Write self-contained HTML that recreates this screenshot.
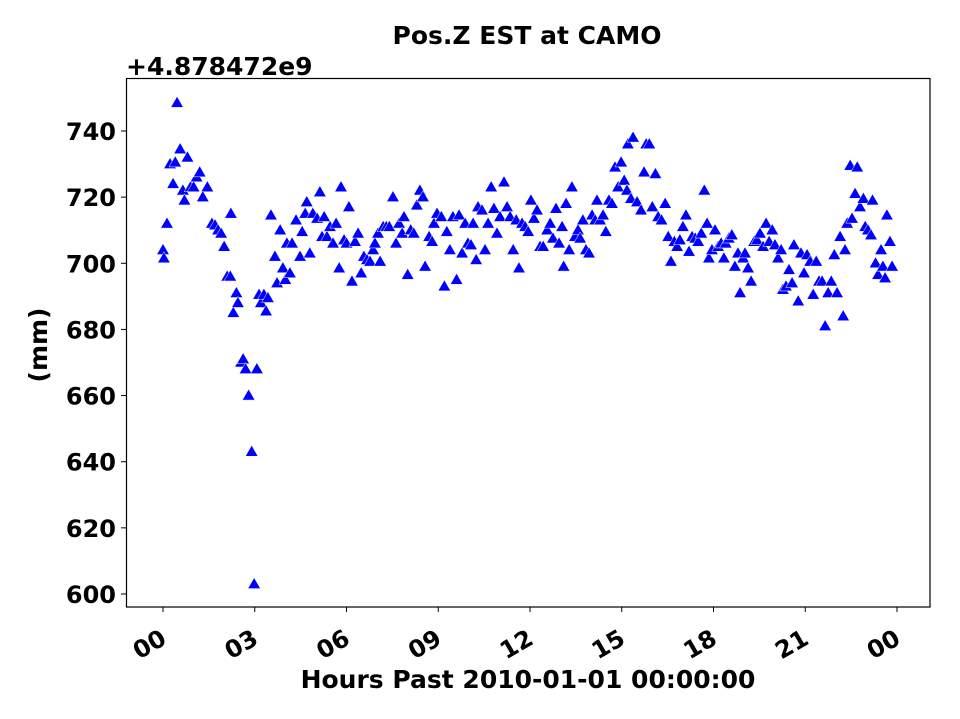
<!DOCTYPE html>
<html><head><meta charset="utf-8"><style>
html,body{margin:0;padding:0;background:#fff;width:960px;height:719px;overflow:hidden}
svg{display:block;font-family:"DejaVu Sans","Liberation Sans",sans-serif;font-weight:bold}
</style></head><body>
<svg id="chart" width="960" height="719" viewBox="0 0 960 719" xmlns="http://www.w3.org/2000/svg">
<rect width="960" height="719" fill="#fff"/>
<text x="527" y="44" text-anchor="middle" font-size="25">Pos.Z EST at CAMO</text>
<text x="126" y="75" font-size="25">+4.878472e9</text>
<text transform="translate(47,345) rotate(-90)" text-anchor="middle" font-size="25">(mm)</text>
<text x="528" y="688" text-anchor="middle" font-size="25">Hours Past 2010-01-01 00:00:00</text>
<g id="marks"></g>
<g id="axes"></g>
<rect x="126.5" y="78.5" width="803.5" height="528.5" fill="none" stroke="#000" stroke-width="1.2"/>
</svg>
<script>
const hours=[0.0,0.03,0.13,0.23,0.33,0.4,0.46,0.56,0.65,0.7,0.8,0.9,1.0,1.1,1.2,1.3,1.45,1.6,1.7,1.8,1.9,2.0,2.1,2.2,2.22,2.3,2.4,2.45,2.55,2.62,2.7,2.8,2.9,2.98,3.07,3.14,3.2,3.3,3.37,3.43,3.53,3.66,3.73,3.83,3.92,4.0,4.05,4.15,4.22,4.35,4.48,4.55,4.65,4.7,4.8,4.9,5.04,5.13,5.2,5.27,5.36,5.46,5.56,5.66,5.76,5.82,5.92,6.0,6.08,6.18,6.28,6.38,6.48,6.57,6.67,6.77,6.87,6.93,7.03,7.1,7.2,7.3,7.4,7.52,7.62,7.72,7.82,7.88,8.0,8.1,8.2,8.3,8.4,8.5,8.57,8.7,8.8,8.86,8.96,9.1,9.2,9.28,9.38,9.48,9.6,9.68,9.78,9.88,9.97,10.07,10.14,10.24,10.3,10.43,10.53,10.63,10.73,10.82,10.92,11.02,11.15,11.25,11.35,11.45,11.55,11.64,11.74,11.84,11.94,12.03,12.13,12.23,12.33,12.43,12.56,12.66,12.75,12.85,12.95,13.05,13.1,13.18,13.28,13.37,13.47,13.57,13.64,13.73,13.83,13.93,14.03,14.13,14.19,14.29,14.39,14.48,14.58,14.68,14.78,14.88,14.98,15.08,15.17,15.2,15.3,15.37,15.5,15.63,15.73,15.8,15.9,16.0,16.1,16.19,16.3,16.42,16.52,16.61,16.72,16.81,16.9,17.0,17.1,17.2,17.3,17.4,17.5,17.6,17.7,17.79,17.85,17.95,18.05,18.15,18.25,18.34,18.4,18.5,18.6,18.7,18.8,18.87,18.97,19.03,19.13,19.23,19.33,19.42,19.52,19.62,19.72,19.82,19.92,20.01,20.11,20.21,20.27,20.37,20.47,20.57,20.63,20.77,20.86,20.96,21.06,21.16,21.26,21.36,21.45,21.55,21.65,21.75,21.85,21.95,22.04,22.14,22.24,22.3,22.37,22.47,22.53,22.63,22.7,22.79,22.9,22.96,23.05,23.15,23.2,23.3,23.38,23.48,23.54,23.61,23.67,23.77,23.84];
const values=[704,701.5,712,730,724,730.5,748.5,734.5,722,719,732,723,723,726,727.5,720,723,712,711.5,710,709,705,696,696,715,685,691,688,670,671,668,660,643,603,668,690.5,688,690.5,685.5,689.5,714.5,702,694,710,698.5,695,706,697,706,713,702,709.5,715,718.5,703,715,713.5,721.5,708,714,708,711,706,712,698.5,723,707,706,717,694.5,706.5,709,697,702,701,700.5,704,706,709,700.5,711,711,711,720,706,712,709,714,696.5,710,709,717.5,722,720,699,708,706.5,712,715,714,693,709.5,704,714,695,714.5,703,712,706,705.5,712,701,717,716,704,712,723,716.5,709,714,724.5,717,714,704,713,698.5,712,711,709.5,719,713.5,716,705,705,710,712,707.5,716.5,706,711,699,718,704,723,708,710,707.5,713,704,703,714.5,713,719,713,714.5,709.5,719,718,729,723,730.5,725,722,736,719.5,738,718.5,716,727.5,736,736,717,727,714,713,718,708,700.5,706.5,705,707,711,714.5,703.5,708,707.5,706.5,709,722,712,701.5,704,710,705,706,701.5,706,707.5,708.5,699,703,691,701.5,703,698.5,694.5,706.5,707,709,705,712,706.5,710,705.5,701.5,704,692,693,698,694,705.5,688.5,703,697,702.5,700.5,690.5,700.5,694.5,694.5,681,691,694.5,702.5,691,708,684,704,712,729.5,713.5,721,729,717,719.5,711,710,708.5,719,700,696.5,704,699,695.5,714.5,706.5,699];
const xTickHours=[0,3,6,9,12,15,18,21,24];
const xTickLabels=["00","03","06","09","12","15","18","21","00"];
const yTicks=[600,620,640,660,680,700,720,740];

const NS="http://www.w3.org/2000/svg";
const xScale=h=>163+h*(734/24);
const yScale=v=>594-(v-600)*(463/140);
const marks=document.getElementById('marks');
const axes=document.getElementById('axes');
for(let i=0;i<hours.length;i++){
  const x=xScale(hours[i]), y=yScale(values[i]);
  const p=document.createElementNS(NS,'polygon');
  p.setAttribute('points',`${x},${y-6.5} ${x-6.3},${y+4.5} ${x+6.3},${y+4.5}`);
  p.setAttribute('fill','#0000ff');
  p.setAttribute('stroke','#ffffff');
  p.setAttribute('stroke-width','0.5');
  
  
  marks.appendChild(p);
}
xTickHours.forEach((h,i)=>{
  const x=xScale(h);
  const l=document.createElementNS(NS,'line');
  l.setAttribute('x1',x);l.setAttribute('x2',x);l.setAttribute('y1',607);l.setAttribute('y2',612);
  l.setAttribute('stroke','#000');l.setAttribute('stroke-width','1');
  
  
  axes.appendChild(l);
  const t=document.createElementNS(NS,'text');
  t.setAttribute('transform',`translate(${x+5},${643}) rotate(-30)`);
  t.setAttribute('text-anchor','end');
  t.setAttribute('font-size','24');
  t.textContent=xTickLabels[i];
  
  
  axes.appendChild(t);
});
yTicks.forEach(v=>{
  const y=yScale(v);
  const l=document.createElementNS(NS,'line');
  l.setAttribute('x1',121);l.setAttribute('x2',126);l.setAttribute('y1',y);l.setAttribute('y2',y);
  l.setAttribute('stroke','#000');l.setAttribute('stroke-width','1');
  
  
  axes.appendChild(l);
  const t=document.createElementNS(NS,'text');
  t.setAttribute('x',116);t.setAttribute('y',y+9);
  t.setAttribute('text-anchor','end');
  t.setAttribute('font-size','24');
  t.textContent=String(v);
  
  
  axes.appendChild(t);
});
</script>
</body></html>
